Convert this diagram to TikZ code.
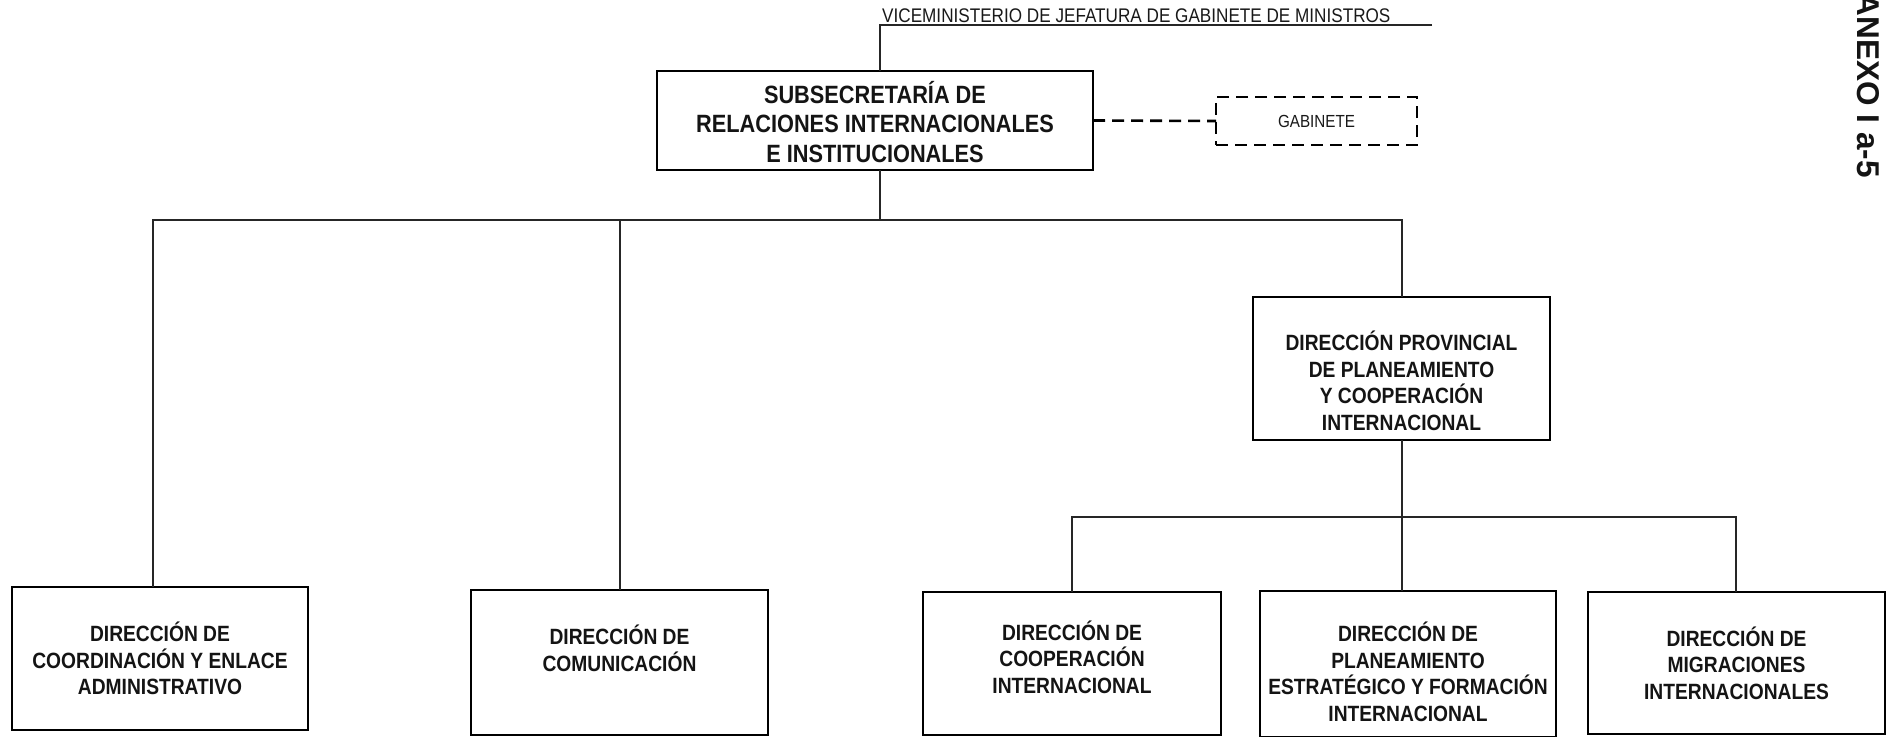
\documentclass[tikz,border=0pt]{standalone}
\usepackage{fontspec}
\setmainfont{Liberation Sans}
\newfontfamily\nar{Liberation Sans}[FakeStretch=0.87]
\usetikzlibrary{calc}
\tikzset{
  box/.style={draw=black, line width=2.7pt, inner sep=0pt, outer sep=0pt, fill=white},
  gabbox/.style={draw=black, line width=2.6pt, dash pattern=on 12pt off 7pt, inner sep=0pt, outer sep=0pt},
  conn/.style={draw=black!85, line width=1.4pt},
  dconn/.style={draw=black, line width=2.6pt, dash pattern=on 12pt off 7pt},
  txt/.style={align=center, inner sep=0pt, text=black!92, font=\nar\bfseries\fontsize{22.1}{26.5}\selectfont},
  txtbig/.style={align=center, inner sep=0pt, text=black!92, font=\nar\bfseries\fontsize{25}{29.5}\selectfont},
  small/.style={inner sep=0pt, text=black!90, font=\nar\fontsize{19.7}{23}\selectfont},
  gabtxt/.style={inner sep=0pt, text=black!90, font=\nar\fontsize{17.5}{20}\selectfont},
  anexo/.style={inner sep=0pt, text=black!92, font=\bfseries\fontsize{31.5}{36}\selectfont}
}
\begin{document}
\begin{tikzpicture}[x=1pt,y=-1pt]
\useasboundingbox[fill=white] (0,0) rectangle (1892,736);

% boxes
\node[box, minimum width=436pt, minimum height=99pt] (sub) at (875,120.5) {};
\node[gabbox, minimum width=201pt, minimum height=48pt] (gab) at (1316.5,121) {};
\node[box, minimum width=296pt, minimum height=143pt] (b1) at (160,658.5) {};
\node[box, minimum width=297pt, minimum height=145pt] (b2) at (619.5,662.5) {};
\node[box, minimum width=297pt, minimum height=143pt] (mid) at (1401.5,368.5) {};
\node[box, minimum width=298pt, minimum height=143pt] (b3) at (1072,663.5) {};
\node[box, minimum width=296pt, minimum height=146pt] (b4) at (1408,664) {};
\node[box, minimum width=297pt, minimum height=142pt] (b5) at (1736.5,663) {};

% texts
\node[small, anchor=base west] (vice) at (882,22) {VICEMINISTERIO DE JEFATURA DE GABINETE DE MINISTROS};
\node[txtbig] (tsub) at ([yshift=-1.5pt]sub.center) {SUBSECRETARÍA DE\\RELACIONES INTERNACIONALES\\E INSTITUCIONALES};
\node[gabtxt] (tgab) at (gab.center) {GABINETE};
\node[txt] (t1) at (b1.center) {DIRECCIÓN DE\\COORDINACIÓN Y ENLACE\\ADMINISTRATIVO};
\node[txt] (t2) at ([yshift=14pt]b2.center) {DIRECCIÓN DE\\COMUNICACIÓN};
\node[txt] (tmid) at ([yshift=-12.5pt]mid.center) {DIRECCIÓN PROVINCIAL\\DE PLANEAMIENTO\\Y COOPERACIÓN\\INTERNACIONAL};
\node[txt] (t3) at ([yshift=6.5pt]b3.center) {DIRECCIÓN DE\\COOPERACIÓN\\INTERNACIONAL};
\node[txt] (t4) at ([yshift=-8pt]b4.center) {DIRECCIÓN DE\\PLANEAMIENTO\\ESTRATÉGICO Y FORMACIÓN\\INTERNACIONAL};
\node[txt] (t5) at (b5.center) {DIRECCIÓN DE\\MIGRACIONES\\INTERNACIONALES};
\node[anexo, rotate=-90, anchor=base east] (anx) at (1857,178) {ANEXO I a-5};

% connector points
\coordinate (ul0) at (880,25);
\coordinate (ul1) at (1432,25);
\coordinate (bus) at (880,220);
\coordinate (d1) at (153,220);
\coordinate (dc) at (620,220);
\coordinate (d2) at (1402,517);
\coordinate (e3) at (1072,517);
\coordinate (e5) at (1736,517);

% connectors
\draw[conn] (ul1) -- (ul0) -- (ul0 |- sub.north);
\draw[conn] (sub.south -| bus) -- (bus);
\draw[conn] (d1 |- b1.north) -- (d1) -- (bus -| d2) -- (d2 |- mid.north);
\draw[conn] (dc |- b2.north) -- (dc);
\draw[conn] (d2 |- mid.south) -- (d2) -- (d2 |- b4.north);
\draw[conn] (e3 |- b3.north) -- (e3) -- (e5) -- (e5 |- b5.north);
\draw[dconn] (sub.east) -- (gab.west);
\end{tikzpicture}
\end{document}
